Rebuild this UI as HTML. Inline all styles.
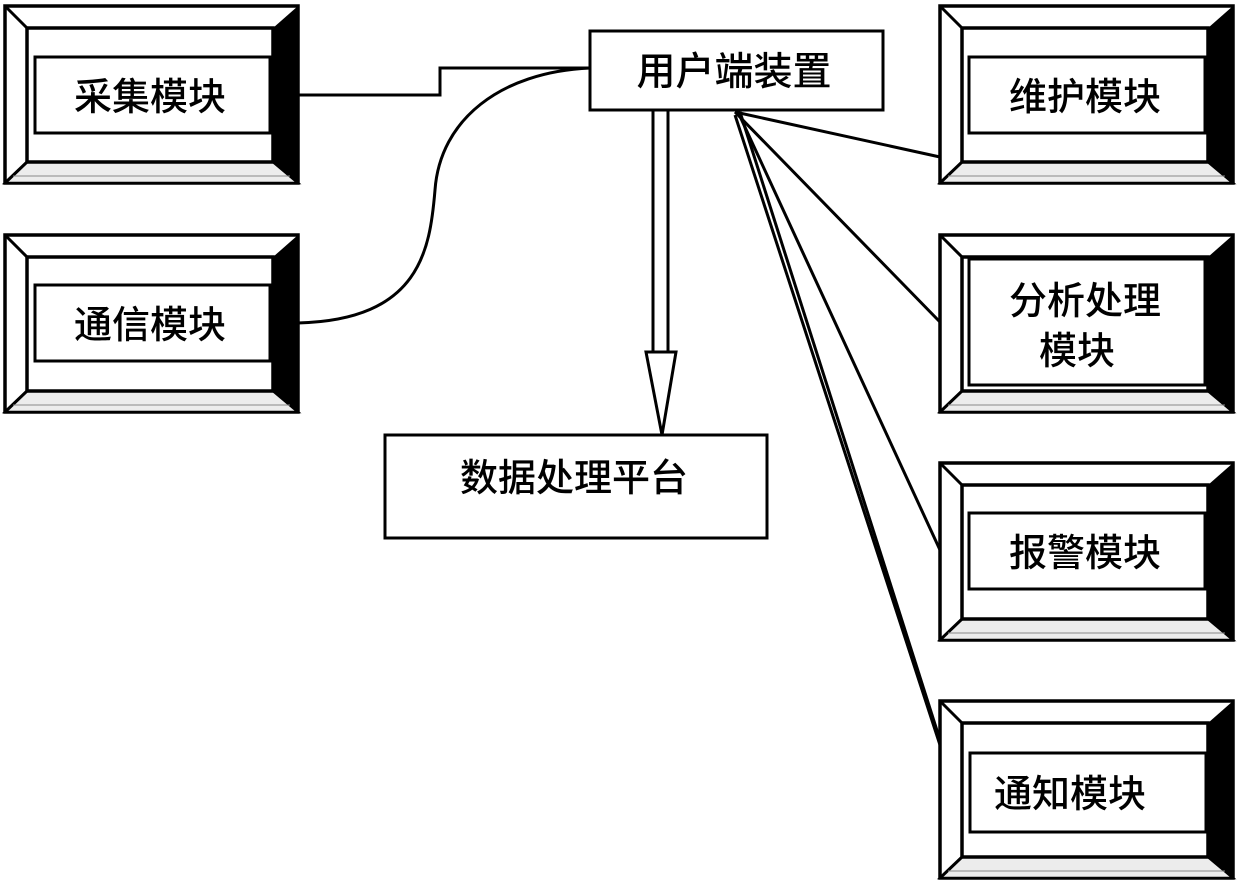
<!DOCTYPE html>
<html><head><meta charset="utf-8"><style>
html,body{margin:0;padding:0;background:#fff}
svg text{font-family:"Liberation Sans","Noto Sans CJK SC",sans-serif;fill:#000;font-weight:500}
</style></head><body>
<svg width="1239" height="888" viewBox="0 0 1239 888" xmlns="http://www.w3.org/2000/svg">
<defs>
<g id="fr">
  <rect x="0" y="0" width="293" height="177" fill="#fff" stroke="#000" stroke-width="3.5"/>
  <polygon points="0,177 22,156 268,156 293,177" fill="#ececec" stroke="#000" stroke-width="2.5"/>
  <polygon points="268,22 293,0 293,177 268,156" fill="#000"/>
  <rect x="22" y="22" width="246" height="134" fill="#fff" stroke="#000" stroke-width="3.5"/>
  <line x1="0" y1="0" x2="22" y2="22" stroke="#000" stroke-width="3"/>
  <line x1="0" y1="177" x2="22" y2="156" stroke="#000" stroke-width="3"/>
  <line x1="8" y1="170" x2="285" y2="170" stroke="#888" stroke-width="1"/>
</g>
</defs>
<g fill="none" stroke="#000" stroke-width="3">
  <polyline points="298,95 440,95 440,68 590,68"/>
  <path d="M298,323 C420,320 430,250 435,190 C440,120 500,72 590,68"/>
  <line x1="735" y1="112" x2="940" y2="157"/>
  <line x1="735" y1="112" x2="940" y2="322"/>
  <line x1="738" y1="112" x2="940" y2="550"/>
  <line x1="740" y1="112" x2="940" y2="740"/>
  <line x1="735" y1="115" x2="940" y2="745"/>
</g>
<use href="#fr" x="5" y="6"/>
<use href="#fr" x="5" y="235"/>
<use href="#fr" x="940" y="6"/>
<use href="#fr" x="940" y="235"/>
<use href="#fr" x="940" y="463"/>
<use href="#fr" x="940" y="701"/>
<g fill="#fff" stroke="#000" stroke-width="3">
  <rect x="35" y="57" width="235" height="76"/>
  <rect x="35" y="285" width="235" height="76"/>
  <rect x="969" y="57" width="236" height="76"/>
  <rect x="969" y="259" width="236" height="126"/>
  <rect x="969" y="513" width="236" height="76"/>
  <rect x="970" y="753" width="236" height="79"/>
  <rect x="590" y="31" width="293" height="79"/>
  <rect x="385" y="435" width="382" height="103"/>
</g>
<g fill="#fff" stroke="#000" stroke-width="3">
  <rect x="653" y="110" width="15" height="243"/>
  <polygon points="646,352 676,352 662,435"/>
</g>
<g font-size="38" text-anchor="middle">
  <text x="150" y="110">采集模块</text>
  <text x="150" y="338">通信模块</text>
  <text x="1085" y="110">维护模块</text>
  <text x="1085" y="314">分析处理</text>
  <text x="1077" y="364">模块</text>
  <text x="1085" y="566">报警模块</text>
  <text x="1070" y="807">通知模块</text>
  <text x="734" y="85" font-size="39">用户端装置</text>
  <text x="574" y="491">数据处理平台</text>
</g>
</svg>
</body></html>
